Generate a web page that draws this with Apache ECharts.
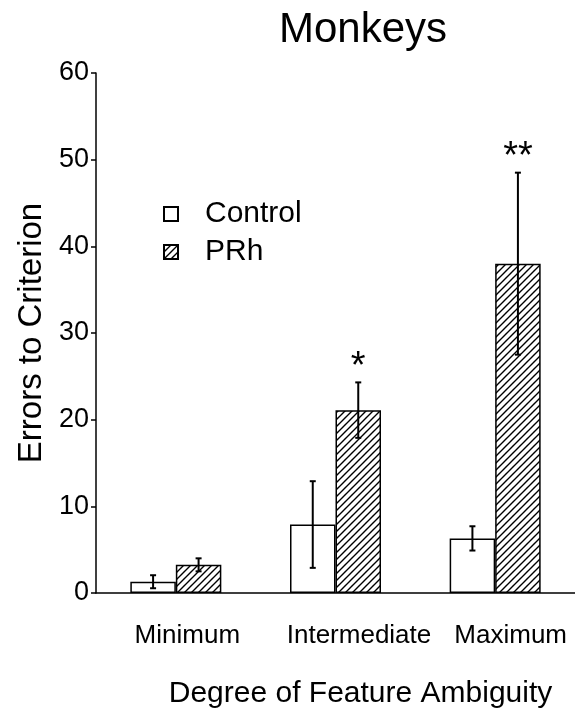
<!DOCTYPE html>
<html>
<head>
<meta charset="utf-8">
<script src="https://cdn.jsdelivr.net/npm/echarts@6/dist/echarts.min.js"></script>
<style>
html,body{margin:0;padding:0;background:#fff;}
#chart{width:575px;height:719px;}
</style>
</head>
<body>
<div id="chart"></div>
<script>
// ---- data ----
var categories = ['Minimum', 'Intermediate', 'Maximum'];
var seriesNames = ['Control', 'PRh'];
var controlMean = [1.3, 7.9, 6.3];
var controlErr = [0.75, 5.0, 1.4];
var prhMean = [3.25, 21.1, 38.0];
var prhErr = [0.75, 3.2, 10.5];
var significance = ['', '*', '**'];
var yTicks = [0, 10, 20, 30, 40, 50, 60];

// ---- style ----
var FONT = '"Liberation Sans", Arial, Helvetica, sans-serif';
var BAR_W = 45.5;
var labelShift = [23, 47, 31];

function makeHatch() {
  var s = 7;
  var c = document.createElement('canvas');
  c.width = s; c.height = s;
  var ctx = c.getContext('2d');
  ctx.fillStyle = '#fff';
  ctx.fillRect(0, 0, s, s);
  ctx.strokeStyle = '#000';
  ctx.lineWidth = 1.4;
  ctx.beginPath();
  ctx.moveTo(-1, s + 1); ctx.lineTo(s + 1, -1);
  ctx.moveTo(-1, 1); ctx.lineTo(1, -1);
  ctx.moveTo(s - 1, s + 1); ctx.lineTo(s + 1, s - 1);
  ctx.stroke();
  return c;
}
var hatch = { image: makeHatch(), repeat: 'repeat' };

var chart = echarts.init(document.getElementById('chart'), null, { renderer: 'canvas' });

function errorSeries(means, errs, offsetSign, sigs) {
  var data = categories.map(function (c, i) { return [i, means[i] - errs[i], means[i] + errs[i], means[i]]; });
  return {
    type: 'custom',
    z: 10,
    data: data,
    renderItem: function (params, api) {
      var idx = api.value(0);
      var lo = api.coord([idx, api.value(1)]);
      var hi = api.coord([idx, api.value(2)]);
      var x = lo[0] + offsetSign * BAR_W / 2;
      var cap = 3;
      var children = [
        { type: 'line', shape: { x1: x, y1: lo[1], x2: x, y2: hi[1] }, style: { stroke: '#000', lineWidth: 2 } },
        { type: 'line', shape: { x1: x - cap, y1: lo[1], x2: x + cap, y2: lo[1] }, style: { stroke: '#000', lineWidth: 2 } },
        { type: 'line', shape: { x1: x - cap, y1: hi[1], x2: x + cap, y2: hi[1] }, style: { stroke: '#000', lineWidth: 2 } }
      ];
      if (sigs && sigs[idx]) {
        children.push({
          type: 'text',
          style: { text: sigs[idx], x: x, y: hi[1] + 4, align: 'center', verticalAlign: 'bottom',
                   font: '38px ' + FONT, fill: '#000' }
        });
      }
      return { type: 'group', children: children };
    }
  };
}

var option = {
  backgroundColor: '#fff',
  animation: false,
  title: {
    text: 'Monkeys',
    left: 274, top: 4,
    textStyle: { fontFamily: FONT, fontSize: 42, fontWeight: 'normal', color: '#000' }
  },
  legend: {
    orient: 'vertical',
    left: 158, top: 194,
    itemWidth: 14, itemHeight: 14,
    itemGap: 8,
    icon: 'rect',
    data: seriesNames,
    textStyle: { fontFamily: FONT, fontSize: 30, color: '#000', padding: [0, 0, 0, 22] }
  },
  grid: { left: 96, right: 0, top: 73, bottom: 126, containLabel: false, outerBoundsMode: 'none' },
  xAxis: {
    type: 'category',
    data: categories,
    name: 'Degree of Feature Ambiguity',
    nameLocation: 'middle',
    nameGap: 86,
    nameTextStyle: { fontFamily: FONT, fontSize: 30, color: '#000', padding: [0, 0, 0, 50] },
    axisLine: { lineStyle: { color: '#000', width: 1.5 } },
    axisTick: { show: false },
    axisLabel: {
      interval: 0,
      hideOverlap: false,
      margin: 30,
      color: '#000',
      fontFamily: FONT,
      fontSize: 26,
      formatter: function (v, i) { return '{c' + i + '|' + v + '}'; },
      rich: {
        c0: { padding: [0, 0, 0, labelShift[0]], fontFamily: FONT, fontSize: 26, color: '#000' },
        c1: { padding: [0, 0, 0, labelShift[1]], fontFamily: FONT, fontSize: 26, color: '#000' },
        c2: { padding: [0, 0, 0, labelShift[2]], fontFamily: FONT, fontSize: 26, color: '#000' }
      }
    }
  },
  yAxis: {
    type: 'value',
    min: yTicks[0], max: yTicks[yTicks.length - 1], interval: 10,
    name: 'Errors to Criterion',
    nameLocation: 'middle',
    nameGap: 45,
    nameTextStyle: { fontFamily: FONT, fontSize: 33, color: '#000' },
    axisLine: { show: true, lineStyle: { color: '#000', width: 1.5 } },
    axisTick: { show: true, length: 5, lineStyle: { color: '#000', width: 1.5 } },
    axisLabel: { margin: 7, color: '#000', fontFamily: FONT, fontSize: 27 },
    splitLine: { show: false }
  },
  series: [
    {
      name: 'Control', type: 'bar', data: controlMean, barWidth: BAR_W, barGap: '0%',
      itemStyle: { color: '#fff', borderColor: '#000', borderWidth: 1.5 }
    },
    {
      name: 'PRh', type: 'bar', data: prhMean, barWidth: BAR_W, barGap: '0%',
      itemStyle: { color: hatch, borderColor: '#000', borderWidth: 1.5 }
    },
    errorSeries(controlMean, controlErr, -1, null),
    errorSeries(prhMean, prhErr, 1, significance)
  ]
};
chart.setOption(option);
</script>
</body>
</html>
